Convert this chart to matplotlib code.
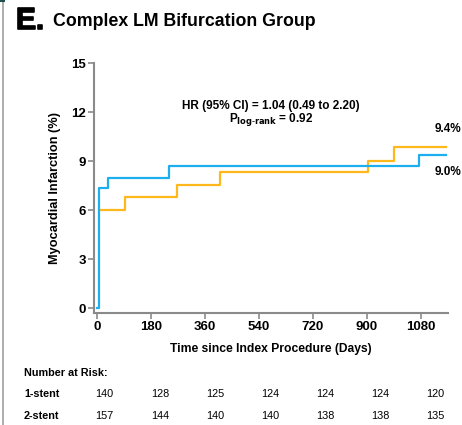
import matplotlib
matplotlib.use("Agg")
import matplotlib.pyplot as plt
import matplotlib.patheffects as pe

plt.rcParams['font.family'] = ['Liberation Sans', 'DejaVu Sans']

# step curves (days, cumulative %)
one_stent_days = [0, 9, 9, 36, 240, 1075, 1165]
one_stent_mi = [0, 0, 7.35, 8.0, 8.7, 9.4, 9.4]
two_stent_days = [9, 94, 268, 410, 903, 990, 1165]
two_stent_mi = [6.0, 6.8, 7.55, 8.35, 9.05, 9.85, 9.85]

xticks = [0, 180, 360, 540, 720, 900, 1080]
yticks = [0, 3, 6, 9, 12, 15]

risk_1stent = [140, 128, 125, 124, 124, 124, 120]
risk_2stent = [157, 144, 140, 140, 138, 138, 135]

blue = '#1DAEEF'
orange = '#FFB81C'
grey = '#8a8a8a'

fig = plt.figure(figsize=(4.62, 4.25), dpi=100)
ax = fig.add_axes([0.2035, 0.264, 0.766, 0.587])

ax.step(two_stent_days, two_stent_mi, where='post', color=orange, lw=1.6)
ax.step(one_stent_days, one_stent_mi, where='post', color=blue, lw=1.6)

ax.set_xlim(-9, 1171)
ax.set_ylim(-0.27, 15)
ax.set_xticks(xticks)
ax.set_yticks(yticks)
ax.set_xticklabels([str(t) for t in xticks], fontweight='bold', fontsize=9.5)
ax.set_yticklabels([str(t) for t in yticks], fontweight='bold', fontsize=9.5)
for s in ['top', 'right']:
    ax.spines[s].set_visible(False)
for s in ['left', 'bottom']:
    ax.spines[s].set_color(grey)
    ax.spines[s].set_linewidth(1.5)
ax.tick_params(color=grey, width=1.2, length=4, pad=2)

ax.set_xlabel('Time since Index Procedure (Days)', fontweight='bold', fontsize=8.7, labelpad=7)
ax.set_ylabel('Myocardial Infarction (%)', fontweight='bold', fontsize=9.2, labelpad=7)

ax.text(0.5, 0.83, 'HR (95% CI) = 1.04 (0.49 to 2.20)', transform=ax.transAxes,
        ha='center', va='center', fontweight='bold', fontsize=8.5)
ax.text(0.5, 0.775, r'P$_{\mathbf{log\text{-}rank}}$ = 0.92', transform=ax.transAxes,
        ha='center', va='center', fontweight='bold', fontsize=8.5)

# titles
fig.text(16 / 462, 1 - 21 / 425, 'E.', fontsize=21.5, fontweight='bold', va='center', ha='left',
         path_effects=[pe.withStroke(linewidth=1.2, foreground='black')])
fig.text(53 / 462, 1 - 22 / 425, 'Complex LM Bifurcation Group', fontsize=12.8,
         fontweight='bold', va='center', ha='left')

# end labels
fig.text(461 / 462, 1 - 129 / 425, '9.4%', fontsize=8.5, fontweight='bold', va='center', ha='right')
fig.text(461 / 462, 1 - 172 / 425, '9.0%', fontsize=8.5, fontweight='bold', va='center', ha='right')

# number at risk table
fig.text(24 / 462, 1 - 373 / 425, 'Number at Risk:', fontsize=7.8, fontweight='bold', va='center')
fig.text(24 / 462, 1 - 394 / 425, '1-stent', fontsize=7.8, fontweight='bold', va='center')
fig.text(24 / 462, 1 - 416 / 425, '2-stent', fontsize=7.8, fontweight='bold', va='center')
col_x = [104, 160, 215, 270, 325, 380, 435]
for cx, a, b in zip(col_x, risk_1stent, risk_2stent):
    fig.text(cx / 462, 1 - 394 / 425, str(a), fontsize=7.8, ha='center', va='center')
    fig.text(cx / 462, 1 - 416 / 425, str(b), fontsize=7.8, ha='center', va='center')

# frame line on the left edge
fig.add_artist(plt.Line2D([3 / 462, 3 / 462], [0, 1], color='#a0a0a0', lw=1.2))
fig.add_artist(plt.Line2D([0, 4 / 462], [1 - 1 / 425, 1 - 1 / 425], color='#1f4f4f', lw=1.5))

fig.savefig('out.png', dpi=100)
